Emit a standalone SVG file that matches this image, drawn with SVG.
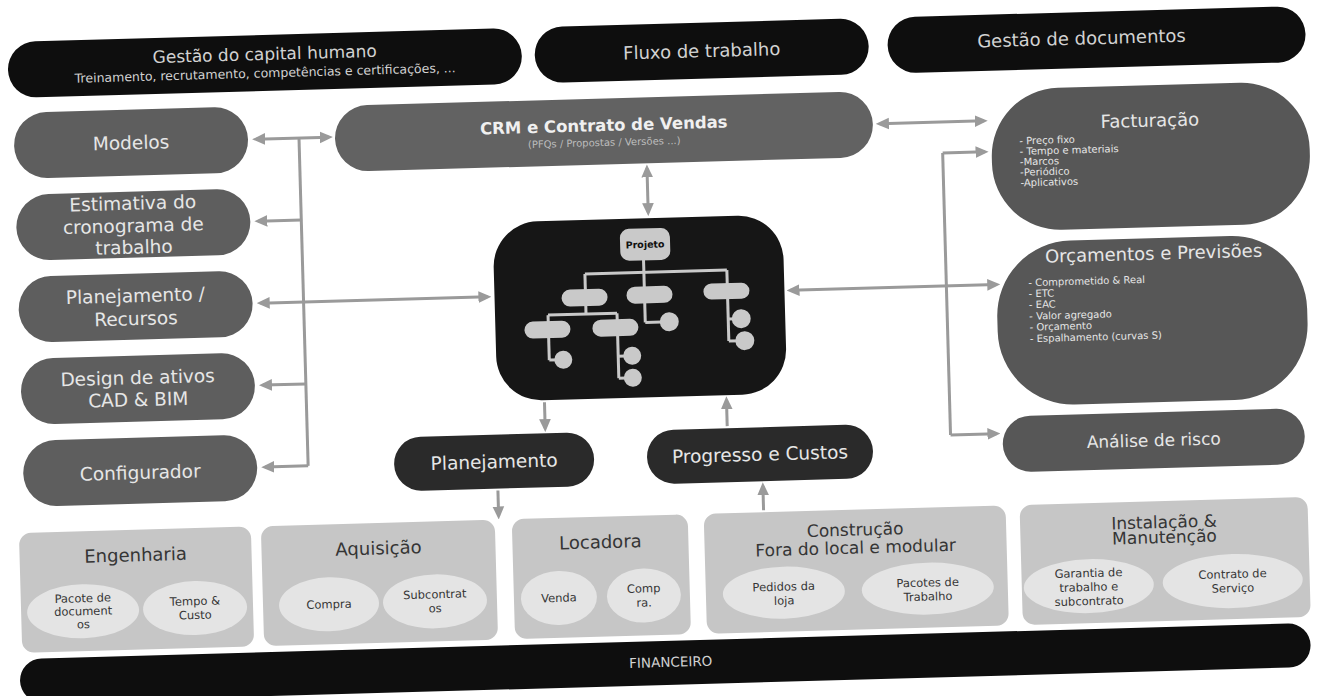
<svg xmlns="http://www.w3.org/2000/svg" width="1319" height="696" viewBox="0 0 1319 696">
<defs>
<marker id="ah" viewBox="0 0 10 10" refX="7" refY="5" markerUnits="userSpaceOnUse" markerWidth="13" markerHeight="13" orient="auto-start-reverse"><path d="M0,0.5 L10,5 L0,9.5 z" fill="#9a9a9a"/></marker>
</defs>
<style>
text{font-family:"DejaVu Sans","Liberation Sans",sans-serif;text-anchor:middle;dominant-baseline:central}
.blk{fill:#0e0e0e}
.tw{fill:#d2d2d2}
.gb{fill:#5e5e5e}
.tg{fill:#e6e6e6}
.dk{fill:#2a2a2a}
.conn line{stroke:#9a9a9a;stroke-width:3;fill:none}
.bx{fill:#c6c6c6}
.el{fill:#e4e4e4}
.tb{fill:#353535}
.tree{stroke:#c9c9c9;stroke-width:3;fill:none}
.tn{fill:#c9c9c9}
.bl{text-anchor:start;font-size:10px}
.lb{font-size:18.5px}
.et{font-size:11.5px}
.bt{font-size:18px}
</style>
<rect width="1319" height="696" fill="#ffffff"/>
<g transform="rotate(-1.6 660 348)">
<g id="capital-humano">
<rect class="blk" x="16" y="24" width="514" height="56" rx="28"/>
<text class="tw" x="273" y="43" font-size="17">Gestão do capital humano</text>
<text class="tw" x="273" y="62" font-size="12.5">Treinamento, recrutamento, competências e certificações, ...</text>
</g>
<g id="fluxo">
<rect class="blk" x="543" y="24" width="334" height="56" rx="28"/>
<text class="tw" x="710" y="52" font-size="18">Fluxo de trabalho</text>
</g>
<g id="documentos">
<rect class="blk" x="896" y="24" width="418" height="56" rx="28"/>
<text class="tw" x="1090" y="50" font-size="18">Gestão de documentos</text>
</g>

<g id="modelos">
<rect class="gb" x="20" y="95" width="234" height="66" rx="33"/>
<text class="tg lb" x="137" y="128">Modelos</text>
</g>
<g id="estimativa">
<rect class="gb" x="20" y="177" width="234" height="66" rx="33"/>
<text class="tg lb" x="137" y="188.5">Estimativa do</text>
<text class="tg lb" x="137" y="211">cronograma de</text>
<text class="tg lb" x="137" y="232.5">trabalho</text>
</g>
<g id="planejamento-recursos">
<rect class="gb" x="20" y="259" width="234" height="66" rx="33"/>
<text class="tg lb" x="137" y="281">Planejamento /</text>
<text class="tg lb" x="137" y="304">Recursos</text>
</g>
<g id="design-ativos">
<rect class="gb" x="20" y="341" width="234" height="66" rx="33"/>
<text class="tg lb" x="137" y="363">Design de ativos</text>
<text class="tg lb" x="137" y="385">CAD &amp; BIM</text>
</g>
<g id="configurador">
<rect class="gb" x="20" y="423" width="234" height="66" rx="33"/>
<text class="tg lb" x="137" y="458">Configurador</text>
</g>

<g id="crm">
<rect fill="#626262" x="341" y="97" width="538" height="66" rx="33"/>
<text fill="#f0f0f0" x="610" y="124" font-size="16.5" font-weight="bold">CRM e Contrato de Vendas</text>
<text fill="#bdbdbd" x="610" y="141" font-size="10">(PFQs / Propostas / Versões ...)</text>
</g>

<g id="projeto">
<rect fill="#161616" x="496" y="218" width="290" height="179" rx="45"/>
<g class="tree">
<line x1="646" y1="258" x2="646" y2="322"/>
<line x1="587" y1="272" x2="729" y2="272"/>
<line x1="587" y1="272" x2="587" y2="312"/>
<line x1="729" y1="272" x2="729" y2="343"/>
<line x1="549" y1="312" x2="618" y2="312"/>
<line x1="549" y1="312" x2="549" y2="357"/>
<line x1="618" y1="312" x2="618" y2="377"/>
<line x1="549" y1="357" x2="563" y2="357"/>
<line x1="618" y1="355" x2="632" y2="355"/>
<line x1="618" y1="377" x2="632" y2="377"/>
<line x1="646" y1="322" x2="670" y2="322"/>
<line x1="729" y1="321" x2="742" y2="321"/>
<line x1="729" y1="343" x2="745" y2="343"/>
</g>
<rect class="tn" x="623" y="228" width="50" height="32" rx="9"/>
<text x="648" y="244" font-size="9.5" font-weight="bold" fill="#111">Projeto</text>
<rect class="tn" x="563" y="287" width="46" height="17" rx="8.5"/>
<rect class="tn" x="628" y="286" width="46" height="17" rx="8.5"/>
<rect class="tn" x="705" y="285" width="46" height="16" rx="8"/>
<rect class="tn" x="525" y="318" width="46" height="17" rx="8.5"/>
<rect class="tn" x="593" y="318" width="46" height="17" rx="8.5"/>
<circle class="tn" cx="563" cy="357" r="9"/>
<circle class="tn" cx="632" cy="355" r="9"/>
<circle class="tn" cx="632" cy="377" r="9"/>
<circle class="tn" cx="670" cy="322" r="9.5"/>
<circle class="tn" cx="742" cy="321" r="9.5"/>
<circle class="tn" cx="745" cy="343" r="9.5"/>
</g>

<g id="facturacao">
<rect fill="#575757" x="997" y="99" width="318" height="142" rx="68"/>
<text class="tg" x="1156" y="134" font-size="18">Facturação</text>
<text class="tg bl" x="1025" y="151">- Preço fixo</text>
<text class="tg bl" x="1025" y="161.5">- Tempo e materiais</text>
<text class="tg bl" x="1025" y="172">-Marcos</text>
<text class="tg bl" x="1025" y="182.5">-Periódico</text>
<text class="tg bl" x="1025" y="193">-Aplicativos</text>
</g>
<g id="orcamentos">
<rect fill="#575757" x="998" y="252" width="310" height="164" rx="75"/>
<text class="tg" x="1156" y="267" font-size="18">Orçamentos e Previsões</text>
<text class="tg bl" x="1030" y="293">- Comprometido &amp; Real</text>
<text class="tg bl" x="1030" y="304">- ETC</text>
<text class="tg bl" x="1030" y="315">- EAC</text>
<text class="tg bl" x="1030" y="326.5">- Valor agregado</text>
<text class="tg bl" x="1030" y="337.5">- Orçamento</text>
<text class="tg bl" x="1030" y="349">- Espalhamento (curvas S)</text>
</g>
<g id="analise-risco">
<rect fill="#575757" x="1000" y="426" width="302" height="56" rx="28"/>
<text class="tg" x="1151" y="454" font-size="17">Análise de risco</text>
</g>

<g id="planejamento">
<rect class="dk" x="391" y="430" width="200" height="54" rx="27"/>
<text class="tg" x="491" y="457" font-size="18.5">Planejamento</text>
</g>
<g id="progresso-custos">
<rect class="dk" x="644" y="430" width="226" height="54" rx="27"/>
<text class="tg" x="757" y="457" font-size="18.5">Progresso e Custos</text>
</g>

<g id="engenharia">
<rect class="bx" x="14" y="515" width="232" height="120" rx="12"/>
<text class="tb bt" x="130" y="540">Engenharia</text>
<ellipse class="el" cx="76" cy="595" rx="56" ry="27"/>
<ellipse class="el" cx="188" cy="595" rx="52" ry="27"/>
<text class="tb et" x="76" y="582">Pacote de</text>
<text class="tb et" x="76" y="595">document</text>
<text class="tb et" x="76" y="608">os</text>
<text class="tb et" x="188" y="588">Tempo &amp;</text>
<text class="tb et" x="188" y="602">Custo</text>
</g>
<g id="aquisicao">
<rect class="bx" x="256" y="515" width="234" height="120" rx="12"/>
<text class="tb bt" x="373" y="540">Aquisição</text>
<ellipse class="el" cx="322" cy="595" rx="50" ry="27"/>
<ellipse class="el" cx="428" cy="595" rx="52" ry="27"/>
<text class="tb et" x="322" y="595">Compra</text>
<text class="tb et" x="428" y="588">Subcontrat</text>
<text class="tb et" x="428" y="602">os</text>
</g>
<g id="locadora">
<rect class="bx" x="507" y="515" width="176" height="120" rx="12"/>
<text class="tb bt" x="595" y="540">Locadora</text>
<ellipse class="el" cx="552" cy="595" rx="38" ry="27"/>
<ellipse class="el" cx="637" cy="595" rx="37" ry="27"/>
<text class="tb et" x="552" y="595">Venda</text>
<text class="tb et" x="637" y="588">Comp</text>
<text class="tb et" x="637" y="602">ra.</text>
</g>
<g id="construcao">
<rect class="bx" x="699" y="515" width="302" height="120" rx="12"/>
<text class="tb" x="850" y="535" font-size="17">Construção</text>
<text class="tb" x="850" y="553" font-size="17">Fora do local e modular</text>
<ellipse class="el" cx="777" cy="596" rx="61" ry="26"/>
<ellipse class="el" cx="921" cy="596" rx="66" ry="26"/>
<text class="tb et" x="777" y="590">Pedidos da</text>
<text class="tb et" x="777" y="604">loja</text>
<text class="tb et" x="921" y="590">Pacotes de</text>
<text class="tb et" x="921" y="604">Trabalho</text>
</g>
<g id="instalacao">
<rect class="bx" x="1015" y="515" width="288" height="120" rx="12"/>
<text class="tb" x="1159" y="536" font-size="17">Instalação &amp;</text>
<text class="tb" x="1159" y="551" font-size="17">Manutenção</text>
<ellipse class="el" cx="1082" cy="598" rx="65" ry="27"/>
<ellipse class="el" cx="1226" cy="597" rx="70" ry="27"/>
<text class="tb et" x="1082" y="585">Garantia de</text>
<text class="tb et" x="1082" y="599">trabalho e</text>
<text class="tb et" x="1082" y="613">subcontrato</text>
<text class="tb et" x="1226" y="590">Contrato de</text>
<text class="tb et" x="1226" y="604">Serviço</text>
</g>
<g id="financeiro">
<rect class="blk" x="11" y="641" width="1291" height="44" rx="22"/>
<text class="tw" x="662" y="662" font-size="13.5">FINANCEIRO</text>
</g>

<g class="conn" id="connectors">
<line x1="305" y1="128" x2="305" y2="456"/>
<line x1="262" y1="128" x2="335" y2="128" marker-start="url(#ah)" marker-end="url(#ah)"/>
<line x1="305" y1="210" x2="262" y2="210" marker-end="url(#ah)"/>
<line x1="262" y1="292" x2="489" y2="292" marker-start="url(#ah)" marker-end="url(#ah)"/>
<line x1="305" y1="374" x2="262" y2="374" marker-end="url(#ah)"/>
<line x1="305" y1="456" x2="262" y2="456" marker-end="url(#ah)"/>
<line x1="652" y1="168" x2="652" y2="212" marker-start="url(#ah)" marker-end="url(#ah)"/>
<line x1="886" y1="130" x2="990" y2="130" marker-start="url(#ah)" marker-end="url(#ah)"/>
<line x1="948" y1="161" x2="948" y2="443"/>
<line x1="948" y1="161" x2="990" y2="161" marker-end="url(#ah)"/>
<line x1="948" y1="443" x2="994" y2="443" marker-end="url(#ah)"/>
<line x1="792" y1="294" x2="998" y2="294" marker-start="url(#ah)" marker-end="url(#ah)"/>
<line x1="543" y1="399" x2="543" y2="425" marker-end="url(#ah)"/>
<line x1="494" y1="486" x2="494" y2="511" marker-end="url(#ah)"/>
<line x1="725" y1="428" x2="725" y2="402" marker-end="url(#ah)"/>
<line x1="759" y1="513" x2="759" y2="489" marker-end="url(#ah)"/>
</g>
</g>
</svg>
